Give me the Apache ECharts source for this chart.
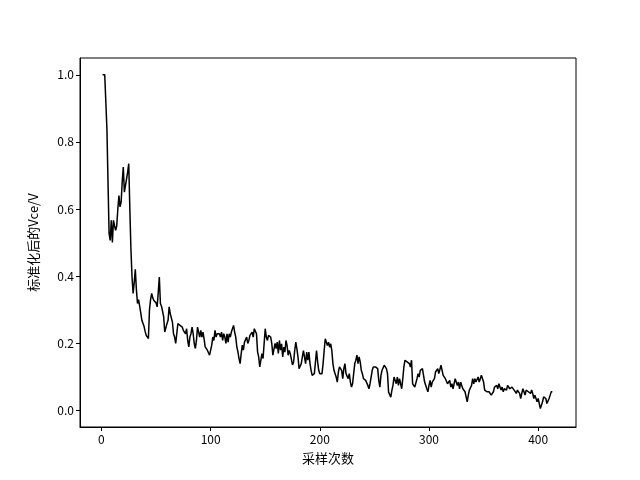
<!DOCTYPE html>
<html>
<head>
<meta charset="utf-8">
<script src="https://cdn.jsdelivr.net/npm/echarts@6/dist/echarts.min.js"></script>
<style>html,body{margin:0;padding:0;background:#fff}#c{width:640px;height:480px}</style>
</head>
<body>
<div id="c"></div>
<script>
const xTicks = [0, 100, 200, 300, 400];
const yTicks = [0, 0.2, 0.4, 0.6, 0.8, 1.0];
const xName = "采样次数";
const yName = "标准化后的Vce/V";
const xStart = 1;
const vce = [
1.0,1.0,1.0,1.0,0.84,0.68,0.527,0.506,0.566,0.50,
0.566,0.55,0.536,0.55,0.60,0.64,0.606,0.62,0.68,0.725,0.65,
0.67,0.69,0.71,0.735,0.60,0.48,0.397,0.348,0.38,0.42,0.36,
0.318,0.33,0.31,0.29,0.268,0.265,0.25,0.235,0.223,0.22,0.214,
0.30,0.33,0.348,0.335,0.327,0.33,0.32,0.308,0.35,0.397,0.318,
0.31,0.295,0.278,0.233,0.228,0.258,0.268,0.308,0.288,0.283,0.263,
0.228,0.218,0.199,0.194,0.258,0.258,0.253,0.256,0.248,0.238,0.243,
0.228,0.243,0.208,0.189,0.218,0.228,0.248,0.228,0.199,0.184,0.208,
0.248,0.253,0.218,0.238,0.218,0.233,0.213,0.189,0.189,0.179,0.174,
0.164,0.159,0.194,0.218,0.208,0.238,0.218,0.228,0.233,0.228,0.218,
0.233,0.208,0.228,0.218,0.199,0.228,0.203,0.228,0.218,0.233,0.238,
0.253,0.233,0.218,0.189,0.174,0.154,0.139,0.169,0.194,0.179,0.203,
0.208,0.218,0.199,0.208,0.223,0.228,0.233,0.218,0.243,0.248,0.228,
0.174,0.159,0.129,0.149,0.169,0.154,0.199,0.243,0.218,0.208,0.223,
0.223,0.218,0.199,0.164,0.159,0.199,0.184,0.203,0.169,0.208,0.179,
0.198,0.159,0.188,0.173,0.208,0.193,0.164,0.178,0.168,0.173,0.135,
0.144,0.178,0.203,0.183,0.159,0.124,0.119,0.139,0.159,0.178,0.18,
0.139,0.173,0.149,0.173,0.139,0.119,0.104,0.099,0.109,0.114,0.178,
0.144,0.119,0.109,0.114,0.109,0.139,0.178,0.213,0.218,0.193,0.203,
0.188,0.198,0.178,0.139,0.119,0.109,0.099,0.084,0.114,0.129,0.124,
0.119,0.094,0.124,0.139,0.109,0.109,0.094,0.109,0.084,0.069,0.079,
0.109,0.139,0.149,0.164,0.139,0.159,0.144,0.119,0.109,0.094,0.089,
0.089,0.084,0.074,0.064,0.079,0.099,0.119,0.129,0.134,0.129,0.124,
0.124,0.089,0.069,0.104,0.119,0.114,0.134,0.139,0.124,0.109,
0.054,0.049,0.039,0.059,0.074,0.099,0.089,0.079,0.099,0.074,0.094,
0.089,0.064,0.094,0.129,0.149,0.154,0.144,0.149,0.139,0.129,0.149,
0.079,0.074,0.069,0.064,0.094,0.109,0.099,0.119,0.114,0.124,0.104,
0.084,0.089,0.064,0.055,0.074,0.089,0.069,0.084,0.079,0.094,0.114,
0.109,0.124,0.109,0.114,0.134,0.119,0.104,0.109,0.094,0.099,0.079,
0.074,0.089,0.069,0.079,0.064,0.069,0.094,0.099,0.074,0.084,0.064,
0.084,0.074,0.064,0.060,0.055,0.040,0.025,0.045,0.060,0.064,0.074,
0.094,0.079,0.094,0.084,0.089,0.099,0.084,0.094,0.104,0.104,0.084,
0.060,0.055,0.055,0.050,0.055,0.050,0.045,0.040,0.055,0.069,0.074,
0.074,0.064,0.079,0.074,0.060,0.069,0.055,0.064,0.069,0.060,0.074,
0.069,0.064,0.060,0.069,0.064,0.060,0.055,0.050,0.060,0.064,0.050,
0.035,0.050,0.064,0.055,0.045,0.060,0.064,0.055,0.060,0.050,0.060,
0.050,0.035,0.045,0.040,0.025,0.035,0.020,0.005,0.015,0.025,0.040,
0.040,0.035,0.020,0.020,0.035,0.045,0.055,0.055
];

const pts = vce.map((v, i) => [xStart + i, v]);
const font = '"Noto Sans CJK SC", sans-serif';
const chart = echarts.init(document.getElementById('c'), null, {renderer: 'canvas'});
chart.setOption({
  animation: false,
  backgroundColor: '#fff',
  grid: {left: 80, right: 64, top: 58, bottom: 53, show: true, borderColor: '#000', borderWidth: 1, containLabel: false},
  xAxis: {
    type: 'value', min: -19.65, max: 434.65,
    name: xName, nameLocation: 'middle', nameGap: 25,
    nameTextStyle: {color: '#000', fontSize: 13, fontFamily: font},
    axisLine: {show: true, onZero: false, lineStyle: {color: '#000', width: 1}},
    axisTick: {show: true, inside: false, length: 4, lineStyle: {color: '#000'}, customValues: xTicks},
    axisLabel: {color: '#000', fontSize: 12, fontFamily: font, margin: 6, customValues: xTicks, formatter: v => String(v)},
    splitLine: {show: false}
  },
  yAxis: {
    type: 'value', min: -0.05, max: 1.05,
    name: yName, nameLocation: 'middle', nameGap: 40, nameRotate: 90,
    nameTextStyle: {color: '#000', fontSize: 13, fontFamily: font},
    axisLine: {show: true, onZero: false, lineStyle: {color: '#000', width: 1}},
    axisTick: {show: true, inside: false, length: 4, lineStyle: {color: '#000'}, customValues: yTicks},
    axisLabel: {color: '#000', fontSize: 12, fontFamily: font, margin: 6, customValues: yTicks, formatter: v => v.toFixed(1)},
    splitLine: {show: false}
  },
  series: [{
    type: 'line', data: pts, showSymbol: false, symbol: 'none',
    lineStyle: {color: '#000', width: 1.5}, clip: true
  }]
});
</script>
</body>
</html>
